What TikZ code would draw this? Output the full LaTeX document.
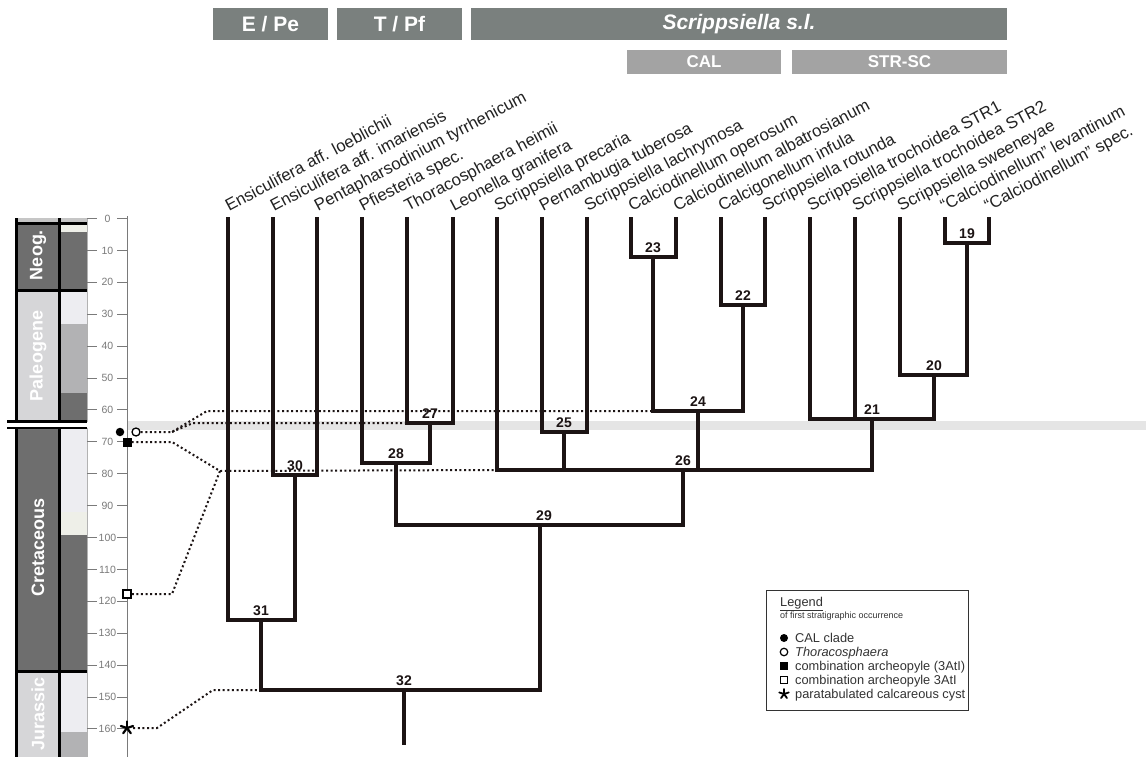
\documentclass[tikz,border=0pt]{standalone}
\usepackage{fontspec}
\setmainfont{Liberation Sans}
\usetikzlibrary{calc,shapes.geometric}
\definecolor{tree}{HTML}{1C1414}
\definecolor{bannergray}{HTML}{7A807E}
\definecolor{subgray}{HTML}{A3A3A3}
\definecolor{gDark}{HTML}{6E6E6E}
\definecolor{gLight}{HTML}{D6D6D8}
\definecolor{gPale}{HTML}{EDEDF1}
\definecolor{gPaleB}{HTML}{EEEFE8}
\definecolor{gMid}{HTML}{B2B2B4}
\definecolor{bandgray}{HTML}{E5E5E5}
\definecolor{axisgray}{HTML}{7A7A7A}
\definecolor{txt}{HTML}{222222}
\definecolor{lg}{HTML}{333333}
\begin{document}
\begin{tikzpicture}[x=1pt,y=-1pt,
  branch/.style={line width=4.6pt, draw=tree, line join=miter},
  dots/.style={line width=2pt, dash pattern=on 2pt off 2.6pt, draw=tree},
  taxon/.style={anchor=base west, rotate=28, inner sep=0pt, font=\fontsize{16.8}{19}\selectfont, text=txt},
  num/.style={anchor=south, inner sep=0pt, font=\bfseries\fontsize{14}{16}\selectfont, text=tree},
  banner/.style={fill=bannergray, text=white, font=\bfseries\fontsize{21}{24}\selectfont, inner sep=0pt, minimum height=32pt},
  subbanner/.style={fill=subgray, text=white, font=\bfseries\fontsize{17}{19}\selectfont, inner sep=0pt, minimum height=24pt},
  period/.style={rotate=90, text=white, font=\bfseries\fontsize{18}{20}\selectfont, inner sep=0pt},
  ticklab/.style={text=axisgray, font=\fontsize{10.5}{12}\selectfont, inner sep=0pt},
  legtext/.style={anchor=base west, inner sep=0pt, text=lg, font=\fontsize{12.8}{15}\selectfont},
  blackline/.style={line width=3pt, draw=black},
  asterisk/.style={line width=2.2pt, draw=black, line cap=round}
]
\useasboundingbox (0,0) rectangle (1146,757);
\fill[white] (0,0) rectangle (1146,757);

% ---------- banners ----------
\node[banner, minimum width=115pt] (bEPe) at (270.5,24) {E / Pe};
\node[banner, minimum width=125pt] (bTPf) at (399.5,24) {T / Pf};
\node[banner, minimum width=536pt] (bScr) at (739,24) {\textit{Scrippsiella s.l.}};
\node[subbanner, minimum width=154pt] (bCAL) at (704,62) {CAL};
\node[subbanner, minimum width=215pt] (bSTR) at (899.5,62) {STR-SC};

% ---------- K/Pg band ----------
\fill[bandgray] (128,421) rectangle (1146,429.5);

% ---------- stratigraphic columns ----------
\fill[gray!45] (16,218) rectangle (87,223);
% Neogene
\fill[gDark] (16,223) rectangle (60,290);
\fill[gPaleB] (60,223) rectangle (87,232);
\fill[gDark] (60,232) rectangle (87,290);
% Paleogene
\fill[gLight] (16,290) rectangle (60,421);
\fill[gPale] (60,290) rectangle (87,324);
\fill[gMid] (60,324) rectangle (87,393);
\fill[gDark] (60,393) rectangle (87,421);
% Cretaceous
\fill[gDark] (16,428) rectangle (60,671);
\fill[gPale] (60,428) rectangle (87,512);
\fill[gPaleB] (60,512) rectangle (87,535);
\fill[gDark] (60,535) rectangle (87,671);
% Jurassic
\fill[gLight] (16,671) rectangle (60,757);
\fill[gPale] (60,671) rectangle (87,732);
\fill[gMid] (60,732) rectangle (87,757);
% borders
\draw[blackline] (16.5,218) -- (16.5,757);
\draw[blackline] (59.5,218) -- (59.5,757);
\draw[gray!60, line width=0.6pt] (87,218) -- (87,757);
\draw[blackline] (15,223.5) -- (87,223.5);
\draw[blackline] (15,290) -- (87,290);
\draw[blackline] (15,671) -- (87,671);
% K/Pg break
\fill[white] (5,422) rectangle (88,428);
\draw[line width=2.4pt] (7,421.5) -- (87,421.5);
\draw[line width=2.4pt] (7,428) -- (87,428);
% period names
\node[period] (pNeog) at (38,255) {Neog.};
\node[period] (pPaleo) at (38,356) {Paleogene};
\node[period] (pCret) at (38,547) {Cretaceous};
\node[period] (pJur) at (38,714) {Jurassic};

% ---------- time axis ----------
\draw[axisgray, line width=1pt] (127,216) -- (127,757);
\foreach \m [evaluate=\m as \yy using 218.5+3.19*\m] in {0,10,...,160}{
  \draw[axisgray, line width=0.9pt] (87,\yy) -- (97,\yy);
  \draw[axisgray, line width=0.9pt] (117,\yy) -- (127,\yy);
  \node[ticklab] at (107.5,\yy) {\m};
}

% ---------- tree coordinates ----------
\foreach \i/\x in {1/228,2/273,3/317,4/362,5/407,6/453,7/497,8/542,9/587,10/631,11/676,12/721,13/765,14/810,15/855,16/900,17/945,18/989}{
  \coordinate (t\i) at (\x,217);
}
\coordinate (n19) at (967,243);
\coordinate (n20) at (934,375);
\coordinate (n21) at (872,419);
\coordinate (n22) at (743,305);
\coordinate (n23) at (653,257);
\coordinate (n24) at (698,411);
\coordinate (n25) at (564,432);
\coordinate (n26) at (683,470);
\coordinate (n27) at (430,423);
\coordinate (n28) at (396,463);
\coordinate (n29) at (540,525);
\coordinate (n30) at (295,475);
\coordinate (n31) at (261,620);
\coordinate (n32) at (404,690);
\coordinate (root) at (404,745);

% ---------- markers ----------
\node[circle, fill=black, inner sep=0pt, minimum size=8.5pt] (mCAL) at (120,432) {};
\node[circle, draw=black, line width=1.3pt, fill=white, inner sep=0pt, minimum size=8pt] (mThor) at (136,432) {};
\node[rectangle, fill=black, inner sep=0pt, minimum size=9pt] (mComb) at (127,442) {};
\node[rectangle, draw=black, line width=1.5pt, fill=white, inner sep=0pt, minimum size=8pt] (mComb2) at (127,594) {};
\node[inner sep=0pt, minimum size=12pt] (mCyst) at (127,728) {};
\foreach \a in {-90,-18,54,126,198}{\draw[asterisk] (mCyst.center) -- ++(\a:6.5);}

% ---------- dotted connectors ----------
\coordinate (s1) at (172,432);
\coordinate (d1) at (207,411);
\coordinate (d2) at (193,423);
\coordinate (s2) at (172,442);
\coordinate (j1) at (220,471);
\coordinate (s3) at (172,594);
\coordinate (s4) at (157,728);
\coordinate (d4) at (213,690);
\draw[dots] (mThor.east) -- (s1) -- (d1) -- (n23 |- n24);
\draw[dots] (s1) -- (d2) -- (t5 |- n27);
\draw[dots] (mComb.east) -- (s2) -- (j1) -- (t7 |- n26);
\draw[dots] (mComb2.east) -- (s3) -- (j1);
\draw[dots] (mCyst.east) -- (s4) -- (d4) -- (n31 |- n32);

% ---------- tree ----------
\draw[branch] (t17) |- (n19) -| (t18);
\draw[branch] (t16) |- (n20) -| (n19);
\draw[branch] (t14) |- (n21) -| (n20);
\draw[branch] (t15) -- (t15 |- n21);
\draw[branch] (t12) |- (n22) -| (t13);
\draw[branch] (t10) |- (n23) -| (t11);
\draw[branch] (n23) |- (n24) -| (n22);
\draw[branch] (t8) |- (n25) -| (t9);
\draw[branch] (t7) |- (n26) -| (n21);
\draw[branch] (n25) -- (n25 |- n26);
\draw[branch] (n24) -- (n24 |- n26);
\draw[branch] (t5) |- (n27) -| (t6);
\draw[branch] (t4) |- (n28) -| (n27);
\draw[branch] (n28) |- (n29) -| (n26);
\draw[branch] (t2) |- (n30) -| (t3);
\draw[branch] (t1) |- (n31) -| (n30);
\draw[branch] (n31) |- (n32) -| (n29);
\draw[branch] (n32) -- (root);

% ---------- node numbers ----------
\foreach \k in {19,20,21,22,23,24,25,26,27,28,30,31,32}{
  \node[num, above=4.5pt] (k\k) at (n\k) {\k};
}
\node[num, above=4.5pt] (k29) at ($(n29)+(4,0)$) {29};

% ---------- taxon labels ----------
\node[taxon] (l1) at (229,212) {Ensiculifera aff. loeblichii};
\node[taxon] (l2) at (274,212) {Ensiculifera aff. imariensis};
\node[taxon] (l3) at (318,212) {Pentapharsodinium tyrrhenicum};
\node[taxon] (l4) at (363,212) {Pfiesteria spec.};
\node[taxon] (l5) at (408,212) {Thoracosphaera heimii};
\node[taxon] (l6) at (454,212) {Leonella granifera};
\node[taxon] (l7) at (498,212) {Scrippsiella precaria};
\node[taxon] (l8) at (543,212) {Pernambugia tuberosa};
\node[taxon] (l9) at (588,212) {Scrippsiella lachrymosa};
\node[taxon] (l10) at (632,212) {Calciodinellum operosum};
\node[taxon] (l11) at (677,212) {Calciodinellum albatrosianum};
\node[taxon] (l12) at (722,212) {Calcigonellum infula};
\node[taxon] (l13) at (766,212) {Scrippsiella rotunda};
\node[taxon] (l14) at (811,212) {Scrippsiella trochoidea STR1};
\node[taxon] (l15) at (856,212) {Scrippsiella trochoidea STR2};
\node[taxon] (l16) at (901,212) {Scrippsiella sweeneyae};
\node[taxon] (l17) at (944,212) {“Calciodinellum” levantinum};
\node[taxon] (l18) at (988,212) {“Calciodinellum” spec.};

% ---------- legend ----------
\node[draw=lg, line width=1pt, fill=white, minimum width=202pt, minimum height=120pt, inner sep=0pt] (legend) at (867,650) {};
\node[legtext] (legT) at (780,606) {\underline{Legend}};
\node[legtext, font=\fontsize{9}{10}\selectfont] (legS) at (780,618) {of first stratigraphic occurrence};
\node[circle, fill=black, inner sep=0pt, minimum size=8pt] (g1) at (784,638) {};
\node[legtext] (e1) at (795,642.5) {CAL clade};
\node[circle, draw=black, line width=1.2pt, inner sep=0pt, minimum size=7.5pt] (g2) at (784,652) {};
\node[legtext] (e2) at (795,656.5) {\textit{Thoracosphaera}};
\node[rectangle, fill=black, inner sep=0pt, minimum size=8pt] (g3) at (784,666) {};
\node[legtext] (e3) at (795,670.5) {combination archeopyle (3AtI)};
\node[rectangle, draw=black, line width=1.4pt, inner sep=0pt, minimum size=7.5pt] (g4) at (784,680) {};
\node[legtext] (e4) at (795,684.5) {combination archeopyle 3AtI};
\node[inner sep=0pt, minimum size=10pt] (g5) at (784,694) {};
\foreach \a in {-90,-18,54,126,198}{\draw[asterisk, line width=1.8pt] (g5.center) -- ++(\a:5);}
\node[legtext] (e5) at (795,698.5) {paratabulated calcareous cyst};
\end{tikzpicture}
\end{document}
